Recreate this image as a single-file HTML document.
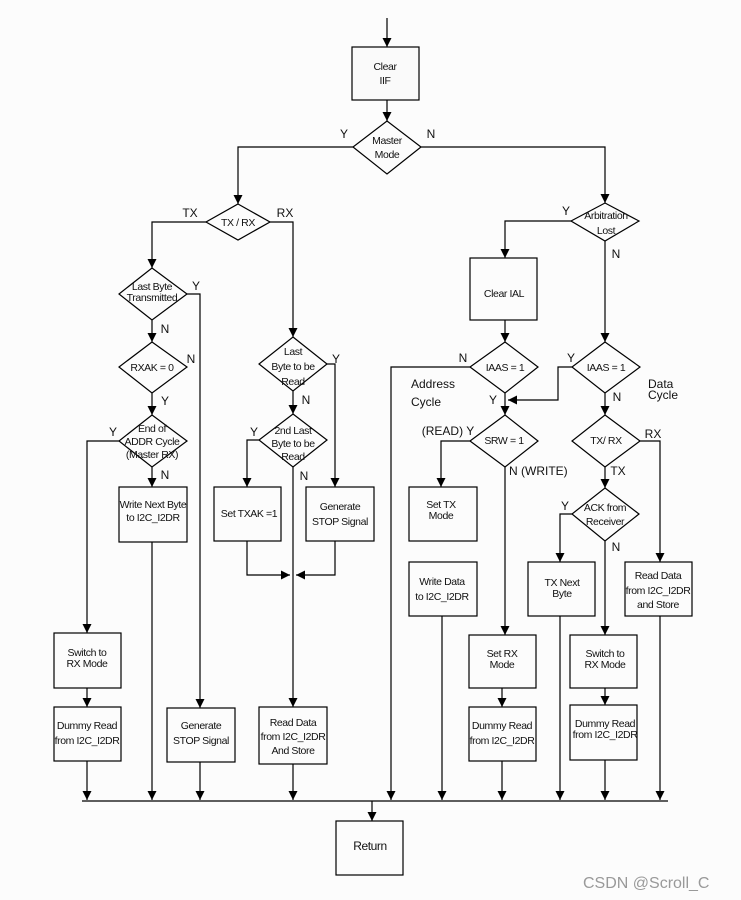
<!DOCTYPE html>
<html><head><meta charset="utf-8"><style>
html,body{margin:0;padding:0;background:#fcfcfc}
svg{display:block}
text{font-family:"Liberation Sans",sans-serif;font-size:10.5px;fill:#111;text-anchor:middle;letter-spacing:-0.4px}
.l{font-size:12px;letter-spacing:0}
.s{text-anchor:start}
</style></head><body>
<svg width="741" height="900" viewBox="0 0 741 900" xmlns="http://www.w3.org/2000/svg">
<defs><marker id="a" viewBox="0 0 10 10" refX="10" refY="5" markerWidth="9" markerHeight="9" markerUnits="userSpaceOnUse" orient="auto"><path d="M0,0L10,5L0,10z" fill="#000"/></marker></defs>
<g fill="none" stroke="#000" stroke-width="1.2">
<!-- boxes -->
<rect x="352" y="47" width="67" height="53" fill="#fafafa"/>
<rect x="119" y="487" width="68" height="55"/>
<rect x="54" y="633" width="67" height="55"/>
<rect x="54" y="707" width="67" height="54"/>
<rect x="167" y="708" width="68" height="54"/>
<rect x="214" y="487" width="67" height="54"/>
<rect x="306" y="487" width="68" height="54"/>
<rect x="259" y="707" width="68" height="57"/>
<rect x="470" y="258" width="67" height="62"/>
<rect x="409" y="487" width="68" height="54"/>
<rect x="409" y="562" width="68" height="54"/>
<rect x="469" y="635" width="67" height="53"/>
<rect x="469" y="707" width="67" height="54"/>
<rect x="528" y="562" width="67" height="54"/>
<rect x="625" y="562" width="67" height="54"/>
<rect x="570" y="635" width="67" height="53"/>
<rect x="570" y="705" width="67" height="55"/>
<rect x="336" y="821" width="67" height="54"/>
<!-- diamonds -->
<path d="M387,121L421,147L387,174L353,147z"/>
<path d="M238,204L270,222L238,240L206,222z"/>
<path d="M152,268L187,294L152,320L119,294z"/>
<path d="M152,342L187,367L152,393L119,367z"/>
<path d="M152,415L187,441L152,467L119,441z"/>
<path d="M293,337L327,364L293,391L259,364z"/>
<path d="M293,414L327,440L293,467L259,440z"/>
<path d="M605,203L639,221L605,241L571,221z"/>
<path d="M505,342L538,367L505,393L470,367z"/>
<path d="M605,342L640,367L605,393L572,367z"/>
<path d="M505,415L538,441L505,467L470,441z"/>
<path d="M605,415L640,441L605,467L572,441z"/>
<path d="M605,488L639,514L605,541L572,514z"/>
<!-- connectors with arrows -->
<g marker-end="url(#a)">
<path d="M387,18V47"/><path d="M387,100V121"/>
<path d="M353,147H238V204"/>
<path d="M421,147H605V203"/>
<path d="M206,222H152V268"/>
<path d="M152,320V342"/><path d="M152,393V415"/><path d="M152,467V487"/>
<path d="M119,441H87V633"/><path d="M87,688V707"/>
<path d="M187,294H200V708"/>
<path d="M270,222H293V337"/>
<path d="M293,391V414"/>
<path d="M327,364H335V487"/>
<path d="M259,440H247V487"/>
<path d="M293,467V707"/>
<path d="M247,541V575H290"/><path d="M335,541V575H296"/>
<path d="M571,221H505V258"/>
<path d="M505,320V342"/><path d="M505,393V415"/>
<path d="M572,367H558V400H508"/>
<path d="M605,241V342"/><path d="M605,393V415"/><path d="M605,467V488"/>
<path d="M470,441H441V487"/>
<path d="M505,467V635"/><path d="M502,688V707"/>
<path d="M640,441H660V562"/>
<path d="M572,514H560V562"/>
<path d="M605,541V635"/><path d="M605,688V705"/>
<!-- to bus -->
<path d="M87,761V800"/><path d="M152,542V800"/><path d="M200,762V800"/>
<path d="M293,764V800"/><path d="M470,367H391V800"/><path d="M442,616V800"/>
<path d="M502,761V800"/><path d="M560,616V800"/><path d="M605,760V800"/>
<path d="M660,616V800"/>
<path d="M372,801V821"/>
</g>
<path d="M82,801H668"/>
</g>
<!-- text -->
<text x="385" y="70">Clear</text><text x="385" y="84">IIF</text>
<text x="387" y="144">Master</text><text x="387" y="158">Mode</text>
<text class="l" x="344" y="138">Y</text><text class="l" x="431" y="138">N</text>
<text x="238" y="226">TX / RX</text>
<text class="l" x="190" y="217">TX</text><text class="l" x="285" y="217">RX</text>
<text x="152" y="290">Last Byte</text><text x="152" y="301">Transmitted</text>
<text class="l" x="196" y="290">Y</text><text class="l" x="165" y="333">N</text>
<text x="152" y="371">RXAK = 0</text>
<text class="l" x="191" y="363">N</text><text class="l" x="165" y="405">Y</text>
<text x="152" y="432">End of</text><text x="152" y="445">ADDR Cycle</text><text x="152" y="458">(Master RX)</text>
<text class="l" x="113" y="436">Y</text><text class="l" x="165" y="479">N</text>
<text x="153" y="508">Write Next Byte</text><text x="153" y="521">to I2C_I2DR</text>
<text x="87" y="656">Switch to</text><text x="87" y="667">RX Mode</text>
<text x="87" y="729">Dummy Read</text><text x="87" y="744">from I2C_I2DR</text>
<text x="201" y="729">Generate</text><text x="201" y="744">STOP Signal</text>
<text x="293" y="355">Last</text><text x="293" y="370">Byte to be</text><text x="293" y="385">Read</text>
<text class="l" x="336" y="363">Y</text><text class="l" x="306" y="404">N</text>
<text x="293" y="434">2nd Last</text><text x="293" y="447">Byte to be</text><text x="293" y="460">Read</text>
<text class="l" x="254" y="436">Y</text><text class="l" x="304" y="480">N</text>
<text x="249" y="517">Set TXAK =1</text>
<text x="340" y="510">Generate</text><text x="340" y="525">STOP Signal</text>
<text x="293" y="726">Read Data</text><text x="293" y="740">from I2C_I2DR</text><text x="293" y="754">And Store</text>
<text x="606" y="219">Arbitration</text><text x="606" y="234">Lost</text>
<text class="l" x="566" y="215">Y</text><text class="l" x="616" y="258">N</text>
<text x="504" y="297">Clear IAL</text>
<text x="505" y="371">IAAS = 1</text>
<text class="l" x="463" y="362">N</text><text class="l" x="493" y="404">Y</text>
<text class="l s" x="411" y="388">Address</text><text class="l s" x="411" y="406">Cycle</text>
<text x="606" y="371">IAAS = 1</text>
<text class="l" x="571" y="362">Y</text><text class="l" x="617" y="401">N</text>
<text class="l s" x="648" y="388">Data</text><text class="l s" x="648" y="399">Cycle</text>
<text x="504" y="444">SRW = 1</text>
<text class="l" x="448" y="435">(READ) Y</text><text class="l s" x="509" y="475">N (WRITE)</text>
<text x="606" y="444">TX/ RX</text>
<text class="l" x="653" y="438">RX</text><text class="l" x="618" y="475">TX</text>
<text x="605" y="511">ACK from</text><text x="605" y="525">Receiver</text>
<text class="l" x="565" y="510">Y</text><text class="l" x="616" y="551">N</text>
<text x="441" y="508">Set TX</text><text x="441" y="519">Mode</text>
<text x="442" y="585">Write Data</text><text x="442" y="600">to I2C_I2DR</text>
<text x="502" y="657">Set RX</text><text x="502" y="668">Mode</text>
<text x="502" y="729">Dummy Read</text><text x="502" y="744">from I2C_I2DR</text>
<text x="562" y="586">TX Next</text><text x="562" y="597">Byte</text>
<text x="658" y="579">Read Data</text><text x="658" y="594">from I2C_I2DR</text><text x="658" y="608">and Store</text>
<text x="605" y="657">Switch to</text><text x="605" y="668">RX Mode</text>
<text x="605" y="727">Dummy Read</text><text x="605" y="738">from I2C_I2DR</text>
<text x="370" y="850" style="font-size:12px">Return</text>
<text class="s" x="583" y="888" style="font-size:16px;fill:#999;letter-spacing:0">CSDN @Scroll_C</text>
</svg>
</body></html>
